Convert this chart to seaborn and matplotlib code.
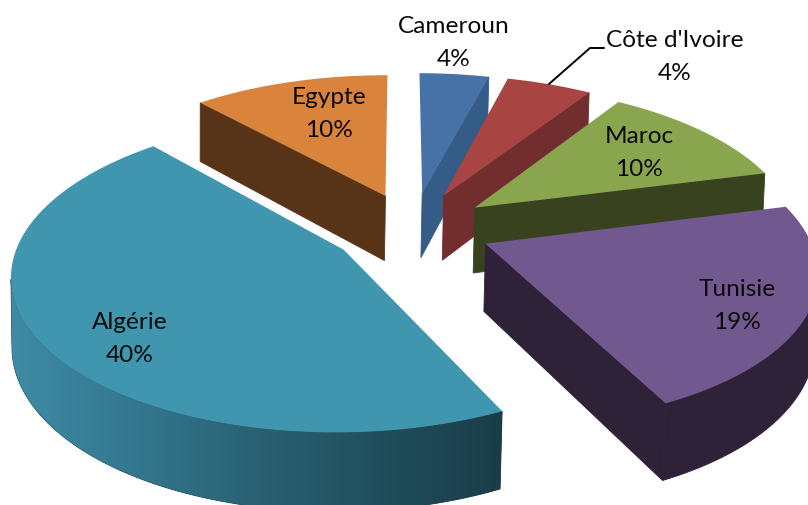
import numpy as np
import matplotlib
matplotlib.use('Agg')
import matplotlib.pyplot as plt
import seaborn as sns

# --- data (clockwise from the top) ---
countries = ['Cameroun', "Côte d'Ivoire", 'Maroc', 'Tunisie', 'Algérie', 'Egypte']
shares = [3.53, 4.32, 10.08, 18.78, 39.18, 10.00]
pct_labels = ['4%', '4%', '10%', '19%', '40%', '10%']

top_colors = ['#4672A8', '#A84543', '#89A54E', '#71588F', '#4095AF', '#D9833C']
side_colors = ['#355C87', '#722E2E', '#39421E', '#2D2238', '#1B3F4B', '#573418']
label_pos = [(454, 43), (675, 57), (639, 153), (737, 306), (130, 339), (329, 114)]
explode = [0.248, 0.250, 0.245, 0.245, 0.255, 0.242]

# camera fitted on the picture: world (x, y, z) -> pixel
CAM_U = [322.98, 43.85, -4.06, 412.72]
CAM_V = [-5.43, -113.35, -273.02, 228.32]
CAM_W = [0.00669, 0.15081, -0.02189, 1.0]
START = 0.05178
THICK = 0.25


def project(x, y, z):
    d = CAM_W[0] * x + CAM_W[1] * y + CAM_W[2] * z + CAM_W[3]
    u = (CAM_U[0] * x + CAM_U[1] * y + CAM_U[2] * z + CAM_U[3]) / d
    v = (CAM_V[0] * x + CAM_V[1] * y + CAM_V[2] * z + CAM_V[3]) / d
    return u, v


def quad_area(u, v):
    return np.sum(u * np.roll(v, -1) - np.roll(u, -1) * v)


sns.set_theme(style='white')
plt.rcParams['font.family'] = ['Lato', 'DejaVu Sans']

fig, ax = plt.subplots(figsize=(8.08, 5.05), dpi=100)
fig.subplots_adjust(0, 0, 1, 1)
ax.axis('off')

fractions = np.array(shares) / np.sum(shares) * 2 * np.pi
starts = START + np.r_[0, np.cumsum(fractions)[:-1]]
rim_cmap = sns.blend_palette(['#3F8CA6', '#34788F', '#2A6173', '#214E5C', '#1A3D48'], as_cmap=True)

# back to front: Egypte first, then clockwise from Cameroun
for i in [5, 0, 1, 2, 3, 4]:
    th = np.linspace(starts[i], starts[i] + fractions[i], 240)
    mid = starts[i] + fractions[i] / 2
    cx, cy = explode[i] * np.sin(mid), explode[i] * np.cos(mid)
    rx, ry = cx + np.sin(th), cy + np.cos(th)

    # radial faces, only those turned to the viewer
    for end, sign in ((0, -1), (-1, 1)):
        xs = np.array([cx, rx[end], rx[end], cx])
        ys = np.array([cy, ry[end], ry[end], cy])
        zs = np.array([0, 0, -THICK, -THICK])
        u, v = project(xs, ys, zs)
        if sign * quad_area(u, v) > 1000:
            ax.fill(u, v, color=side_colors[i], lw=0.6)

    # outer rim: keep the part that faces the viewer
    ut, vt = project(rx, ry, 0.0)
    ub, vb = project(rx, ry, -THICK)
    front = [k for k in range(len(th) - 1)
             if quad_area(np.array([ut[k], ut[k + 1], ub[k + 1], ub[k]]),
                          np.array([vt[k], vt[k + 1], vb[k + 1], vb[k]])) < 0]
    if front:
        idx = np.r_[front, front[-1] + 1]
        rim = ax.fill(np.r_[ut[idx], ub[idx][::-1]], np.r_[vt[idx], vb[idx][::-1]],
                      color=side_colors[i], lw=0.6)[0]
        if i == 4:  # Algérie carries a left-to-right gradient
            grad = ax.imshow(np.linspace(0, 1, 256)[None, :], cmap=rim_cmap, aspect='auto',
                             extent=(5, 505, 510, 0), zorder=2)
            grad.set_clip_path(rim)

    # top face
    ua, va = project(cx, cy, 0.0)
    ax.fill(np.r_[ua, ut], np.r_[va, vt], color=top_colors[i], lw=0, zorder=3)

    ax.text(label_pos[i][0], label_pos[i][1], countries[i] + '\n' + pct_labels[i], ha='center',
            va='center', fontsize=17.6, color='#0A0A0A', linespacing=1.68, zorder=10)

# leader line of the Côte d'Ivoire label
ax.plot([549, 590, 604], [84, 48, 48], color='black', lw=1.4, zorder=9)

ax.set_xlim(0, 808)
ax.set_ylim(505, 0)
fig.savefig('out.png', dpi=100)
